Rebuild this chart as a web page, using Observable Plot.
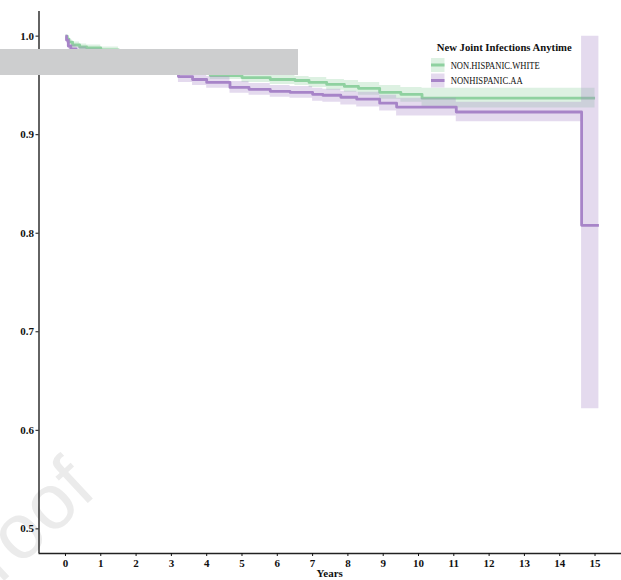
<!DOCTYPE html>
<html>
<head>
<meta charset="utf-8">
<script src="https://cdn.jsdelivr.net/npm/d3@7"></script>
<script src="https://cdn.jsdelivr.net/npm/@observablehq/plot@0.6"></script>
<style>
  html, body { margin: 0; padding: 0; background: #fff; }
  #chart { width: 621px; height: 580px; }
</style>
</head>
<body>
<div id="chart"></div>
<script>
// Kaplan–Meier estimates (survival free of new joint infection) by group
const groups = ["NON.HISPANIC.WHITE", "NONHISPANIC.AA"];
const groupColors = ["#8fd1a0", "#a784c8"];
const legendTitle = "New Joint Infections Anytime";

const whiteTime  = [0, 0.05, 0.1, 0.2, 0.4, 0.6, 1.0, 1.5, 2.0, 2.5, 3.0, 3.5, 4.1, 5.0, 5.8, 6.5, 6.9, 7.4, 7.9, 8.3, 8.9, 9.5, 10.1, 15.0];
const whiteSurv  = [1.000, 0.997, 0.994, 0.991, 0.989, 0.988, 0.986, 0.983, 0.979, 0.975, 0.971, 0.967, 0.960, 0.958, 0.956, 0.955, 0.953, 0.951, 0.949, 0.947, 0.943, 0.941, 0.937, 0.937];
const whiteLower = [1.000, 0.995, 0.992, 0.989, 0.986, 0.985, 0.983, 0.980, 0.976, 0.971, 0.967, 0.963, 0.956, 0.953, 0.951, 0.950, 0.948, 0.945, 0.943, 0.940, 0.936, 0.933, 0.927, 0.927];
const whiteUpper = [1.000, 0.999, 0.996, 0.994, 0.992, 0.991, 0.989, 0.986, 0.982, 0.979, 0.975, 0.971, 0.964, 0.962, 0.960, 0.959, 0.958, 0.956, 0.955, 0.953, 0.950, 0.948, 0.947, 0.947];

const aaTime  = [0, 0.03, 0.08, 0.15, 0.3, 0.6, 1.0, 1.5, 2.0, 2.5, 3.2, 3.6, 4.0, 4.66, 5.2, 5.8, 6.36, 7.0, 7.29, 7.8, 8.25, 8.9, 9.38, 11.07, 14.62, 15.11];
const aaSurv  = [1.000, 0.996, 0.990, 0.987, 0.985, 0.983, 0.980, 0.976, 0.972, 0.967, 0.959, 0.956, 0.953, 0.948, 0.946, 0.944, 0.943, 0.941, 0.940, 0.938, 0.936, 0.932, 0.928, 0.923, 0.808, 0.808];
const aaLower = [1.000, 0.993, 0.987, 0.984, 0.981, 0.979, 0.976, 0.971, 0.967, 0.962, 0.953, 0.950, 0.947, 0.942, 0.940, 0.938, 0.937, 0.934, 0.933, 0.930, 0.928, 0.924, 0.919, 0.913, 0.622, 0.622];
const aaUpper = [1.000, 0.999, 0.994, 0.991, 0.989, 0.987, 0.984, 0.981, 0.977, 0.972, 0.965, 0.962, 0.959, 0.954, 0.952, 0.950, 0.949, 0.947, 0.946, 0.944, 0.943, 0.940, 0.937, 0.933, 1.000, 1.000];

const xTicks = [0, 1, 2, 3, 4, 5, 6, 7, 8, 9, 10, 11, 12, 13, 14, 15];
const yTicks = [0.5, 0.6, 0.7, 0.8, 0.9, 1.0];
const xDomain = [-0.75, 15.75];
const yDomain = [0.475, 1.025];
const xLabel = "Years";

function rows(group, time, surv, lower, upper) {
  return time.map((t, i) => ({group, time: t, surv: surv[i], lower: lower[i], upper: upper[i]}));
}
const whiteRows = rows(groups[0], whiteTime, whiteSurv, whiteLower, whiteUpper);
const aaRows = rows(groups[1], aaTime, aaSurv, aaLower, aaUpper);

const serif = "'Liberation Serif', 'Times New Roman', serif";

const plot = Plot.plot({
  width: 621,
  height: 580,
  marginLeft: 38.5,
  marginRight: 0,
  marginTop: 11,
  marginBottom: 27,
  style: {fontFamily: serif, fontSize: "11px", background: "transparent", color: "#111"},
  x: {domain: xDomain},
  y: {domain: yDomain},
  marks: [
    Plot.areaY(whiteRows, {x: "time", y1: "lower", y2: "upper", curve: "step-after", fill: groupColors[0], fillOpacity: 0.3}),
    Plot.line(whiteRows, {x: "time", y: "surv", curve: "step-after", stroke: groupColors[0], strokeWidth: 2.8, strokeLinecap: "butt"}),
    Plot.areaY(aaRows, {x: "time", y1: "lower", y2: "upper", curve: "step-after", fill: groupColors[1], fillOpacity: 0.3}),
    Plot.line(aaRows, {x: "time", y: "surv", curve: "step-after", stroke: groupColors[1], strokeWidth: 2.8, strokeLinecap: "butt"}),
    Plot.ruleX([xDomain[0]], {stroke: "#222", strokeWidth: 1.4}),
    Plot.ruleY([yDomain[0]], {stroke: "#222", strokeWidth: 1.4}),
    Plot.axisY({ticks: yTicks, tickFormat: d3.format(".1f"), tickSize: 3, tickPadding: 2, label: null, fontWeight: "bold", fontSize: 11}),
    Plot.axisX({ticks: xTicks, tickFormat: d3.format("d"), tickSize: 3, tickPadding: 3, label: null, fontWeight: "bold", fontSize: 11})
  ]
});

document.getElementById("chart").appendChild(plot);
const svg = d3.select(plot);

// faint diagonal watermark behind everything
svg.insert("text", ":first-child")
  .attr("transform", "translate(-37.8,620) rotate(-43)")
  .attr("text-anchor", "start")
  .attr("font-family", "'Liberation Sans', Arial, sans-serif")
  .attr("font-size", 78)
  .attr("fill", "#ebebeb")
  .text("Proof");

// x-axis title
const xs = plot.scale("x");
svg.append("text")
  .attr("x", (xs.range[0] + xs.range[1]) / 2)
  .attr("y", 577)
  .attr("text-anchor", "middle")
  .attr("font-family", serif)
  .attr("font-weight", "bold")
  .attr("font-size", 11)
  .text(xLabel);

// legend
const legend = svg.append("g").attr("font-family", serif).attr("text-anchor", "start");
legend.append("text")
  .attr("x", 436.7).attr("y", 50.6)
  .attr("font-weight", "bold").attr("font-size", 10.7)
  .text(legendTitle);
const keyY = [58, 73.5];
const labelWidths = [89, 72];
groups.forEach((g, i) => {
  legend.append("rect")
    .attr("x", 431).attr("y", keyY[i]).attr("width", 13.5).attr("height", 14)
    .attr("fill", groupColors[i]).attr("fill-opacity", 0.3);
  legend.append("line")
    .attr("x1", 431).attr("x2", 444.5)
    .attr("y1", keyY[i] + 7).attr("y2", keyY[i] + 7)
    .attr("stroke", groupColors[i]).attr("stroke-width", 3);
  legend.append("text")
    .attr("x", 450.7).attr("y", keyY[i] + 10.6)
    .attr("font-size", 10)
    .attr("textLength", labelWidths[i])
    .attr("lengthAdjust", "spacingAndGlyphs")
    .text(g);
});

// gray block over the upper-left strip
svg.append("rect")
  .attr("x", 0).attr("y", 49).attr("width", 298).attr("height", 26)
  .attr("fill", "#cdcecf");
</script>
</body>
</html>
